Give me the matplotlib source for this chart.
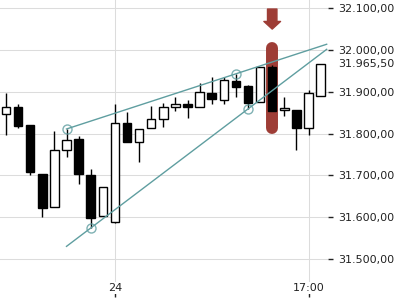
import numpy as np
import matplotlib
matplotlib.use("Agg")
import matplotlib.pyplot as plt
from matplotlib.patches import FancyArrowPatch

# OHLC candles
opens  = [31847, 31864, 31820, 31703, 31624, 31761, 31787, 31701, 31603, 31589,
          31825, 31780, 31813, 31835, 31864, 31871, 31864, 31897, 31880, 31926,
          31914, 31876, 31959, 31856, 31856, 31813, 31890]
closes = [31864, 31818, 31707, 31622, 31761, 31785, 31703, 31598, 31672, 31825,
          31780, 31811, 31835, 31864, 31871, 31864, 31899, 31883, 31928, 31911,
          31873, 31959, 31854, 31861, 31813, 31897, 31966]
highs  = [31898, 31871, 31820, 31703, 31806, 31811, 31794, 31715, 31672, 31871,
          31852, 31811, 31866, 31873, 31888, 31880, 31921, 31935, 31935, 31943,
          31916, 31959, 31964, 31888, 31856, 31904, 31966]
lows   = [31797, 31813, 31701, 31600, 31624, 31744, 31679, 31574, 31603, 31586,
          31780, 31732, 31813, 31816, 31854, 31837, 31864, 31871, 31871, 31888,
          31859, 31876, 31854, 31842, 31761, 31797, 31890]

x_tick_pos = [9, 25]
x_tick_labels = ["24", "17:00"]
y_ticks = [31500, 31600, 31700, 31800, 31900, 32000, 32100]
last_price = 31965.50

# trend lines: two anchor points each (index, price)
upper_anchors = [(5, 31811), (19, 31943)]
lower_anchors = [(7, 31574), (20, 31859)]
trend_start, trend_end = 5, 26.5

# highlighted candle
hl_idx = 22
hl_low, hl_high = 31799, 32019
arrow_top, arrow_tip = 32098, 32050

teal = "#5f9ea0"
red = "#9e3d36"

def fmt(v):
    s = f"{v:,.2f}"
    return s.replace(",", "X").replace(".", ",").replace("X", ".")

fig = plt.figure(figsize=(4, 3), dpi=100)
ax = fig.add_axes([0, 0.01, 0.82, 0.99])
ax.set_xlim(-0.496, 26.61)
ax.set_ylim(31409, 32119.6)

for s in ax.spines.values():
    s.set_visible(False)

ax.set_axisbelow(True)
ax.grid(True, color="#dcdcdc", linewidth=0.75)

# highlight behind the candle
cap = 6 / 0.4183  # rounded-cap radius in price units
ax.plot([hl_idx, hl_idx], [hl_low + cap, hl_high - cap], color=red,
        linewidth=8.6, solid_capstyle="round", zorder=1.5)
arr = FancyArrowPatch((hl_idx, arrow_top), (hl_idx, arrow_tip),
                      arrowstyle="simple,head_length=5.5,head_width=12,tail_width=6.8",
                      mutation_scale=1, shrinkA=0, shrinkB=0, color=red, zorder=2)
ax.add_patch(arr)

idx = np.arange(len(opens))
o = np.array(opens); c = np.array(closes)
ax.vlines(idx, lows, highs, color="black", linewidth=1.0, zorder=2)
up = c >= o
body_bottom = np.minimum(o, c)
body_h = np.maximum(np.abs(c - o), 1)
ax.bar(idx, body_h, bottom=body_bottom, width=0.7,
       color=np.where(up, "white", "black"), edgecolor="black", linewidth=1.0, zorder=3)

# trend lines
xs = np.array([trend_start, trend_end])
for anchors in (upper_anchors, lower_anchors):
    (x1, y1), (x2, y2) = anchors
    k = (y2 - y1) / (x2 - x1)
    ax.plot(xs, y1 + k * (xs - x1), color=teal, linewidth=1.0, zorder=4)
    ax.plot([x1, x2], [y1, y2], linestyle="none", marker="o", markersize=6.5,
            markerfacecolor="none", markeredgecolor=teal, markeredgewidth=1.0,
            alpha=0.8, zorder=4)

ax.set_xticks(x_tick_pos)
ax.set_xticklabels(x_tick_labels)
ax.tick_params(axis="x", direction="in", length=4, width=1, color="#222222",
               pad=-10, labelsize=8, labelcolor="#222222")
for lab in ax.get_xticklabels():
    lab.set_bbox(dict(facecolor="white", edgecolor="none", pad=1))

ax.yaxis.tick_right()
ax.set_yticks(y_ticks)
ax.set_yticklabels([fmt(v) for v in y_ticks])
ax.tick_params(axis="y", direction="out", length=3.6, width=1, color="#222222",
               pad=3.6, labelsize=8, labelcolor="#222222")

ax.text(1.0305, last_price, fmt(last_price), transform=ax.get_yaxis_transform(),
        ha="left", va="center", fontsize=8, color="#222222")

fig.savefig("out.png", dpi=100)
